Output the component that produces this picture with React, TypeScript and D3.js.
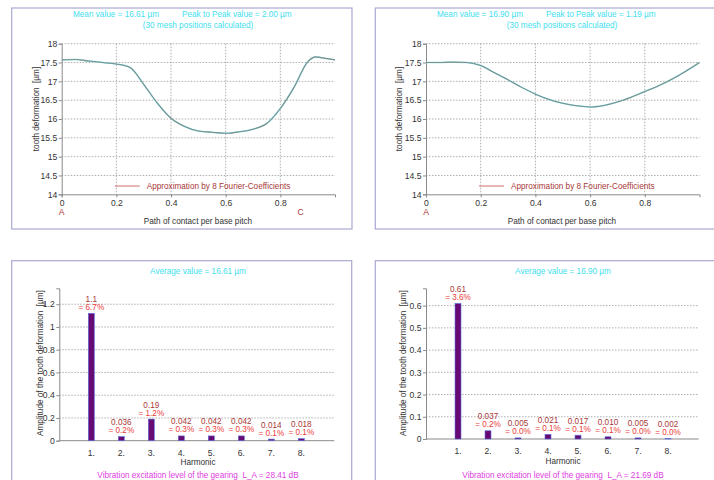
import React, { useEffect, useRef } from 'react';
import * as d3 from 'd3';

// Mesh-position curves (path of contact per base pitch -> tooth deformation, µm)
const leftPositions = [0, 0.05, 0.1, 0.15, 0.2, 0.25, 0.3, 0.35, 0.4, 0.45, 0.5, 0.55, 0.6, 0.65, 0.7, 0.75, 0.8, 0.85, 0.9, 0.93, 0.95, 1.0];
const leftDeformation = [17.57, 17.58, 17.54, 17.5, 17.46, 17.37, 16.92, 16.42, 16.02, 15.8, 15.68, 15.65, 15.62, 15.66, 15.73, 15.88, 16.28, 16.84, 17.52, 17.65, 17.63, 17.57];
const rightPositions = [0, 0.05, 0.1, 0.15, 0.2, 0.25, 0.3, 0.35, 0.4, 0.45, 0.5, 0.55, 0.6, 0.65, 0.7, 0.75, 0.8, 0.85, 0.9, 0.95, 1.0];
const rightDeformation = [17.5, 17.5, 17.51, 17.5, 17.42, 17.23, 17.04, 16.84, 16.66, 16.52, 16.42, 16.35, 16.32, 16.36, 16.45, 16.58, 16.73, 16.88, 17.06, 17.27, 17.5];

const deformationTicks = [14, 14.5, 15, 15.5, 16, 16.5, 17, 17.5, 18];
const pathTicks = [0, 0.2, 0.4, 0.6, 0.8];

// Fourier harmonics
const harmonics = ['1.', '2.', '3.', '4.', '5.', '6.', '7.', '8.'];
const leftAmplitudes = [1.12, 0.036, 0.19, 0.042, 0.042, 0.042, 0.014, 0.018];
const leftAmpLabels = ['1.1', '0.036', '0.19', '0.042', '0.042', '0.042', '0.014', '0.018'];
const leftPercents = ['6.7%', '0.2%', '1.2%', '0.3%', '0.3%', '0.3%', '0.1%', '0.1%'];
const rightAmplitudes = [0.61, 0.037, 0.005, 0.021, 0.017, 0.01, 0.005, 0.002];
const rightAmpLabels = ['0.61', '0.037', '0.005', '0.021', '0.017', '0.010', '0.005', '0.002'];
const rightPercents = ['3.6%', '0.2%', '0.0%', '0.1%', '0.1%', '0.1%', '0.0%', '0.0%'];
const leftAmpTicks = [0, 0.2, 0.4, 0.6, 0.8, 1, 1.2];
const rightAmpTicks = [0, 0.1, 0.2, 0.3, 0.4, 0.5, 0.6];

const FONT = '"Liberation Sans", Arial, sans-serif';
const CYAN = '#3fe0ee';
const MAGENTA = '#e040e0';
const DARKRED = '#a83838';
const RED = '#ec3a3a';
const BORDER = '#a9a9d2';
const AXIS = '#8a8a8a';
const GRID = '#9a9a9a';

type LinePanel = {
  box: [number, number, number, number];
  left: number; right: number; top: number; bottom: number;
  cx: number;
  mean: string; p2p: string; meanX: number; p2pX: number;
  xs: number[]; ys: number[];
  pitchPoint?: number;
  titleX: number;
};

type BarPanel = {
  box: [number, number, number, number];
  left: number; right: number; zeroY: number; topY: number; yMax: number;
  cx: number;
  values: number[]; labels: string[]; percents: string[]; ticks: number[];
  average: string; level: string;
  titleX: number;
};

function drawLinePanel(svg: any, p: LinePanel) {
  const g = svg.append('g');
  g.append('rect').attr('x', p.box[0]).attr('y', p.box[1]).attr('width', p.box[2]).attr('height', p.box[3])
    .attr('fill', 'none').attr('stroke', BORDER).attr('stroke-width', 1.2);

  const x = d3.scaleLinear().domain([0, 1]).range([p.left, p.right]);
  const y = d3.scaleLinear().domain([14, 18]).range([p.bottom, p.top]);

  // grid
  g.selectAll('.hg').data(deformationTicks.slice(1)).join('line')
    .attr('x1', p.left).attr('x2', p.right).attr('y1', (d: number) => y(d)).attr('y2', (d: number) => y(d))
    .attr('stroke', GRID).attr('stroke-width', 0.8).attr('stroke-dasharray', '1.5,1.5');
  g.selectAll('.vg').data(pathTicks.slice(1)).join('line')
    .attr('x1', (d: number) => x(d)).attr('x2', (d: number) => x(d)).attr('y1', p.top).attr('y2', p.bottom)
    .attr('stroke', GRID).attr('stroke-width', 0.8).attr('stroke-dasharray', '1.5,1.5');

  const yAxis = d3.axisLeft(y).tickValues(deformationTicks).tickSize(3).tickPadding(1.5).tickFormat((d: any) => String(d));
  const xAxis = d3.axisBottom(x).tickValues(pathTicks).tickSize(3).tickPadding(2.5).tickFormat((d: any) => String(d));
  const ya = g.append('g').attr('transform', `translate(${p.left},0)`).call(yAxis);
  const xa = g.append('g').attr('transform', `translate(0,${p.bottom})`).call(xAxis);
  [ya, xa].forEach((a: any) => {
    a.select('.domain').attr('stroke', AXIS);
    a.selectAll('line').attr('stroke', AXIS);
    a.selectAll('text').attr('font-family', FONT).attr('font-size', 8.6).attr('fill', '#333');
  });

  const line = d3.line<number>().x((_, i) => x(p.xs[i])).y((d) => y(d)).curve(d3.curveMonotoneX);
  g.append('path').attr('d', line(p.ys)).attr('fill', 'none').attr('stroke', '#7fe6ea').attr('stroke-width', 1.5);
  g.append('path').attr('d', line(p.ys)).attr('fill', 'none').attr('stroke', '#7e8e8c').attr('stroke-width', 1.1);

  // legend
  g.append('line').attr('x1', p.left + 53).attr('x2', p.left + 78).attr('y1', y(14.22)).attr('y2', y(14.22))
    .attr('stroke', '#d07070').attr('stroke-width', 1);
  g.append('text').attr('x', p.left + 85).attr('y', y(14.22) + 3).attr('font-family', FONT).attr('font-size', 8.2)
    .attr('fill', DARKRED).text('Approximation by 8 Fourier-Coefficients');

  g.append('text').attr('x', p.meanX).attr('y', 17).attr('font-family', FONT).attr('font-size', 8.2)
    .attr('fill', CYAN).text(p.mean);
  g.append('text').attr('x', p.p2pX).attr('y', 17).attr('font-family', FONT).attr('font-size', 8.2)
    .attr('fill', CYAN).text(p.p2p);
  g.append('text').attr('x', p.cx).attr('y', 28).attr('text-anchor', 'middle').attr('font-family', FONT)
    .attr('font-size', 8.2).attr('fill', CYAN).text('(30 mesh positions calculated)');

  g.append('text').attr('x', x(0)).attr('y', 215).attr('text-anchor', 'middle').attr('font-family', FONT)
    .attr('font-size', 8.6).attr('fill', DARKRED).text('A');
  if (p.pitchPoint !== undefined) {
    g.append('text').attr('x', x(p.pitchPoint)).attr('y', 215).attr('text-anchor', 'middle').attr('font-family', FONT)
      .attr('font-size', 8.6).attr('fill', DARKRED).text('C');
  }
  g.append('text').attr('x', p.cx).attr('y', 223.5).attr('text-anchor', 'middle').attr('font-family', FONT)
    .attr('font-size', 8.2).attr('fill', '#333').text('Path of contact per base pitch');
  g.append('text').attr('transform', `translate(${p.titleX},109) rotate(-90)`).attr('text-anchor', 'middle')
    .attr('font-family', FONT).attr('font-size', 8.2).attr('fill', '#333').style('white-space', 'pre')
    .text('tooth deformation  [µm]');
}

function drawBarPanel(svg: any, p: BarPanel) {
  const g = svg.append('g');
  g.append('rect').attr('x', p.box[0]).attr('y', p.box[1]).attr('width', p.box[2]).attr('height', p.box[3])
    .attr('fill', 'none').attr('stroke', BORDER).attr('stroke-width', 1.2);

  const x = d3.scalePoint().domain(harmonics).range([p.left + 32, p.left + 242]);
  const y = d3.scaleLinear().domain([0, p.yMax]).range([p.zeroY, p.topY]);

  g.selectAll('.hg').data(p.ticks.slice(1)).join('line')
    .attr('x1', p.left).attr('x2', p.right).attr('y1', (d: number) => y(d)).attr('y2', (d: number) => y(d))
    .attr('stroke', GRID).attr('stroke-width', 0.8).attr('stroke-dasharray', '1.5,1.5');

  const yAxis = d3.axisLeft(y).tickValues(p.ticks).tickSize(3).tickPadding(1.5).tickFormat((d: any) => String(d));
  const ya = g.append('g').attr('transform', `translate(${p.left},0)`).call(yAxis);
  ya.select('.domain').attr('stroke', AXIS);
  ya.selectAll('line').attr('stroke', AXIS);
  ya.selectAll('text').attr('font-family', FONT).attr('font-size', 8.6).attr('fill', '#333');

  g.append('line').attr('x1', p.left).attr('x2', p.right).attr('y1', p.zeroY).attr('y2', p.zeroY)
    .attr('stroke', AXIS);

  g.selectAll('.bar').data(p.values).join('rect')
    .attr('x', (_: number, i: number) => (x(harmonics[i]) as number) - 3)
    .attr('y', (d: number) => y(d))
    .attr('width', 6)
    .attr('height', (d: number) => p.zeroY - y(d))
    .attr('fill', '#680a74')
    .attr('stroke', '#5a70dc')
    .attr('stroke-width', 0.6);

  g.selectAll('.v').data(p.values).join('text')
    .attr('x', (_: number, i: number) => x(harmonics[i]) as number)
    .attr('y', (d: number) => y(d) - 11.5)
    .attr('text-anchor', 'middle').attr('font-family', FONT).attr('font-size', 8.2).attr('fill', DARKRED)
    .text((_: number, i: number) => p.labels[i]);
  g.selectAll('.pc').data(p.values).join('text')
    .attr('x', (_: number, i: number) => x(harmonics[i]) as number)
    .attr('y', (d: number) => y(d) - 3.5)
    .attr('text-anchor', 'middle').attr('font-family', FONT).attr('font-size', 8.2).attr('fill', RED)
    .text((_: number, i: number) => '= ' + p.percents[i]);

  g.selectAll('.hl').data(harmonics).join('text')
    .attr('x', (d: string) => x(d) as number).attr('y', p.zeroY + 15)
    .attr('text-anchor', 'middle').attr('font-family', FONT).attr('font-size', 8.6).attr('fill', '#333')
    .text((d: string) => d);
  g.append('text').attr('x', p.cx).attr('y', p.zeroY + 24.5).attr('text-anchor', 'middle').attr('font-family', FONT)
    .attr('font-size', 8.2).attr('fill', '#333').text('Harmonic');

  g.append('text').attr('x', p.cx).attr('y', 273.5).attr('text-anchor', 'middle').attr('font-family', FONT)
    .attr('font-size', 8.2).attr('fill', CYAN).text(p.average);
  g.append('text').attr('x', p.cx).attr('y', 477.5).attr('text-anchor', 'middle').attr('font-family', FONT)
    .attr('font-size', 8.2).attr('fill', MAGENTA).style('white-space', 'pre').text(p.level);
  g.append('text').attr('transform', `translate(${p.titleX},363) rotate(-90)`).attr('text-anchor', 'middle')
    .attr('font-family', FONT).attr('font-size', 8.2).attr('fill', '#333').style('white-space', 'pre')
    .text('Amplitude of the tooth deformation  [µm]');
}

const App = () => {
  const svgRef = useRef<SVGSVGElement>(null);

  useEffect(() => {
    const svg = d3.select(svgRef.current);
    svg.selectAll('*').remove();
    svg.append('rect').attr('width', 714).attr('height', 480).attr('fill', '#fff');

    drawLinePanel(svg, {
      box: [11.7, 8, 340.3, 221], left: 61.7, right: 335, top: 43.7, bottom: 194.3, cx: 198,
      mean: 'Mean value = 16.61 µm', p2p: 'Peak to Peak value = 2.00 µm', meanX: 73, p2pX: 182,
      xs: leftPositions, ys: leftDeformation, pitchPoint: 0.874, titleX: 39,
    });
    drawLinePanel(svg, {
      box: [375.3, 8, 345, 221], left: 426, right: 699.5, top: 43.7, bottom: 194.3, cx: 562,
      mean: 'Mean value = 16.90 µm', p2p: 'Peak to Peak value = 1.19 µm', meanX: 437, p2pX: 546,
      xs: rightPositions, ys: rightDeformation, titleX: 402,
    });
    drawBarPanel(svg, {
      box: [11.7, 260.7, 340, 230], left: 59.3, right: 334.3, zeroY: 440.7, topY: 288.3, yMax: 1.34, cx: 198,
      values: leftAmplitudes, labels: leftAmpLabels, percents: leftPercents, ticks: leftAmpTicks,
      average: 'Average value = 16.61 µm', level: 'Vibration excitation level of the gearing  L_A = 28.41 dB',
      titleX: 43,
    });
    drawBarPanel(svg, {
      box: [375.3, 260.7, 345, 230], left: 426, right: 698.7, zeroY: 439, topY: 288.3, yMax: 0.678, cx: 563,
      values: rightAmplitudes, labels: rightAmpLabels, percents: rightPercents, ticks: rightAmpTicks,
      average: 'Average value = 16.90 µm', level: 'Vibration excitation level of the gearing  L_A = 21.69 dB',
      titleX: 406,
    });
  }, []);

  return (
    <svg ref={svgRef} width={714} height={480} style={{ position: 'absolute', left: 0, top: 0 }} />
  );
};

export default App;
